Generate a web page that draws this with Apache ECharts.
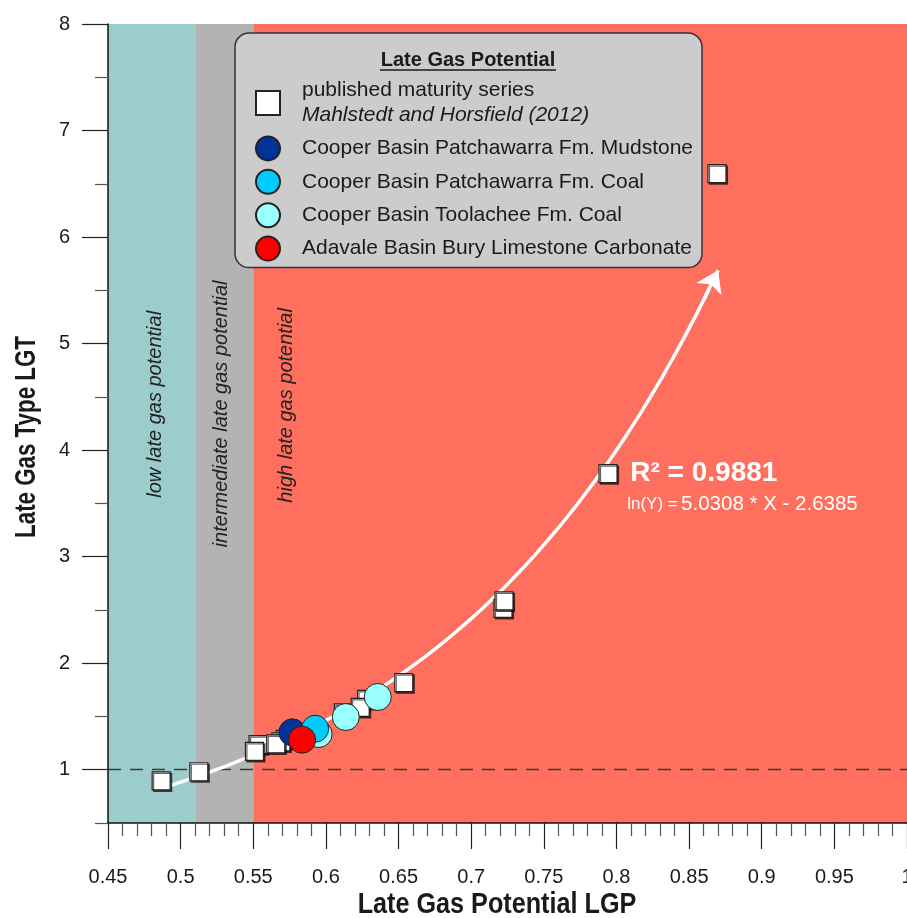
<!DOCTYPE html>
<html>
<head>
<meta charset="utf-8">
<script src="https://cdn.jsdelivr.net/npm/echarts@6/dist/echarts.min.js"></script>
<style>
  html, body { margin: 0; padding: 0; background: #fff; }
  #chart { width: 907px; height: 918px; }
</style>
</head>
<body>
<div id="chart"></div>
<script>
// ---- data ----
const SERIES_PUBLISHED = 'published maturity series';
const PUBLISHED_REF = 'Mahlstedt and Horsfield (2012)';
const SERIES_MUDSTONE = 'Cooper Basin Patchawarra Fm. Mudstone';
const SERIES_PATCH_COAL = 'Cooper Basin Patchawarra Fm. Coal';
const SERIES_TOOLACHEE = 'Cooper Basin Toolachee Fm. Coal';
const SERIES_ADAVALE = 'Adavale Basin Bury Limestone Carbonate';
const LEGEND_TITLE = 'Late Gas Potential';
const X_NAME = 'Late Gas Potential LGP';
const Y_NAME = 'Late Gas Type LGT';

// published maturity series (LGP, LGT), listed back-to-front
const maturityLGP = [0.4866, 0.5125, 0.5533, 0.5508, 0.5720, 0.5690, 0.5655, 0.6120, 0.6280, 0.6236, 0.6536, 0.7219, 0.7226, 0.7942, 0.8692];
const maturityLGT = [0.895, 0.981, 1.235, 1.172, 1.285, 1.262, 1.243, 1.533, 1.660, 1.585, 1.817, 2.515, 2.585, 3.780, 6.595];

const mudstoneLGP = [0.5769];
const mudstoneLGT = [1.351];
const patchCoalLGP = [0.5926];
const patchCoalLGT = [1.385];
const toolacheeLGP = [0.5950, 0.6137, 0.6357];
const toolacheeLGT = [1.335, 1.495, 1.683];
const adavaleLGP = [0.5836];
const adavaleLGT = [1.282];

// exponential fit ln(Y) = a * X + b
const FIT_SLOPE = 5.0308;
const FIT_INTERCEPT = -2.6385;
const FIT_R2 = 0.9881;
const FIT_X_START = 0.49;
const FIT_X_END = 0.87;
const FIT_STEPS = 80;

// classification bands on LGP
const bandEdges = [0.45, 0.51, 0.55, 1.0];
const bandNames = ['low late gas potential', 'intermediate late gas potential', 'high late gas potential'];
const bandColors = ['#9ccccc', '#b3b3b3', '#fe6f5e'];
const bandLabelAt = [[0.4824, 4.43], [0.5283, 4.34], [0.5731, 4.42]];

const yTickValues = [1, 2, 3, 4, 5, 6, 7, 8];
const yMinorTickValues = [0.5, 1.5, 2.5, 3.5, 4.5, 5.5, 6.5, 7.5];
const referenceLGT = 1;

// ---- styling ----
const FONT = '"Liberation Sans", Arial, sans-serif';
const INK = '#1a1a1a';

const zip = (xs, ys) => xs.map((x, i) => [x, ys[i]]);
const fitY = x => Math.exp(FIT_SLOPE * x + FIT_INTERCEPT);
const fitCurve = [];
for (let i = 0; i <= FIT_STEPS; i++) {
  const x = FIT_X_START + (FIT_X_END - 0.006 - FIT_X_START) * i / FIT_STEPS;
  fitCurve.push([x, fitY(x)]);
}
const arrowFrom = FIT_X_END - 0.01;

const squareStyle = {
  color: '#ffffff', borderColor: '#222', borderWidth: 1.2, opacity: 1,
  shadowColor: 'rgba(0,0,0,0.6)', shadowOffsetX: 1.5, shadowOffsetY: 1.5, shadowBlur: 0
};
const circleStyle = c => ({ color: c, borderColor: '#222', borderWidth: 1, opacity: 1 });

const chart = echarts.init(document.getElementById('chart'), null, { renderer: 'canvas' });

const option = {
  animation: false,
  backgroundColor: '#ffffff',
  grid: { left: 108, top: 24, right: 0, bottom: 95, containLabel: false, outerBoundsMode: 'none' },
  xAxis: {
    type: 'value', min: 0.45, max: 1.0, interval: 0.05, z: 10,
    axisLine: { show: true, onZero: false, lineStyle: { color: '#111', width: 1.5 } },
    axisTick: { show: true, inside: false, length: 26, lineStyle: { color: '#222', width: 1.2 } },
    minorTick: { show: true, splitNumber: 5, length: 13, lineStyle: { color: '#555', width: 1.2 } },
    axisLabel: { fontFamily: FONT, fontSize: 20, color: INK, margin: 44, hideOverlap: false },
    splitLine: { show: false }, minorSplitLine: { show: false }
  },
  yAxis: [{
    type: 'value', min: 0.5, max: 8, interval: 0.5, z: 10,
    axisLine: { show: true, onZero: false, lineStyle: { color: '#111', width: 1.5 } },
    axisTick: { show: true, inside: false, length: 26, customValues: yTickValues, lineStyle: { color: '#222', width: 1.2 } },
    axisLabel: { fontFamily: FONT, fontSize: 20, color: INK, margin: 38, customValues: yTickValues },
    splitLine: { show: false }
  }, {
    type: 'value', min: 0.5, max: 8, interval: 0.5, position: 'left', offset: 0, z: 10,
    axisLine: { show: false },
    axisTick: { show: true, inside: false, length: 13, customValues: yMinorTickValues, lineStyle: { color: '#555', width: 1.2 } },
    axisLabel: { show: false },
    splitLine: { show: false }
  }],
  legend: {
    orient: 'vertical', left: 235, top: 33,
    padding: [45, 9, 6, 20],
    itemWidth: 24, itemHeight: 24, itemGap: 7.4,
    backgroundColor: '#cccccc', borderColor: '#333', borderWidth: 1.5, borderRadius: 14,
    data: [SERIES_PUBLISHED, SERIES_MUDSTONE, SERIES_PATCH_COAL, SERIES_TOOLACHEE, SERIES_ADAVALE],
    selectedMode: false,
    textStyle: {
      fontFamily: FONT, fontSize: 21, color: INK, lineHeight: 24, padding: [0, 0, 0, 17],
      rich: {
        a: { fontFamily: FONT, fontSize: 21, color: INK, lineHeight: 25 },
        b: { fontFamily: FONT, fontSize: 21, color: INK, fontStyle: 'italic', lineHeight: 25 }
      }
    },
    formatter: name => name === SERIES_PUBLISHED ? '{a|' + name + '}\n{b|' + PUBLISHED_REF + '}' : name
  },
  series: [
    {
      // classification bands and the LGT = 1 reference line
      type: 'scatter', data: [], silent: true, z: 1,
      markArea: {
        silent: true, z: 1,
        label: { show: false },
        data: bandNames.map((n, i) => [
          { name: n, xAxis: bandEdges[i], itemStyle: { color: bandColors[i], opacity: 1, borderWidth: 0 } },
          { xAxis: bandEdges[i + 1] }
        ])
      },
      markLine: {
        silent: true, symbol: 'none', z: 5,
        label: { show: false },
        lineStyle: { type: [13, 9], color: '#3a3a3a', width: 1.3 },
        data: [{ yAxis: referenceLGT }]
      }
    },
    {
      name: 'fit', type: 'line', data: fitCurve, showSymbol: false, silent: true, z: 6,
      lineStyle: { color: '#ffffff', width: 3.5 }, smooth: false
    },
    {
      name: 'fit-arrow', type: 'lines', coordinateSystem: 'cartesian2d', silent: true, z: 6,
      symbol: ['none', 'arrow'], symbolSize: 21,
      lineStyle: { color: '#ffffff', width: 3.5, opacity: 1, curveness: 0 },
      data: [{ coords: [[arrowFrom, fitY(arrowFrom)], [FIT_X_END, fitY(FIT_X_END)]] }]
    },
    {
      name: SERIES_PUBLISHED, type: 'scatter', symbol: 'rect', symbolSize: 18, z: 10,
      itemStyle: squareStyle, data: zip(maturityLGP, maturityLGT)
    },
    {
      name: SERIES_TOOLACHEE, type: 'scatter', symbol: 'circle', symbolSize: 27, z: 10,
      itemStyle: circleStyle('#99ffff'), data: zip(toolacheeLGP, toolacheeLGT)
    },
    {
      name: SERIES_MUDSTONE, type: 'scatter', symbol: 'circle', symbolSize: 27, z: 10,
      itemStyle: circleStyle('#003399'), data: zip(mudstoneLGP, mudstoneLGT)
    },
    {
      name: SERIES_PATCH_COAL, type: 'scatter', symbol: 'circle', symbolSize: 27, z: 10,
      itemStyle: circleStyle('#00ccff'), data: zip(patchCoalLGP, patchCoalLGT)
    },
    {
      name: SERIES_ADAVALE, type: 'scatter', symbol: 'circle', symbolSize: 27, z: 10,
      itemStyle: circleStyle('#ff0000'), data: zip(adavaleLGP, adavaleLGT)
    }
  ]
};

chart.setOption(option);

// annotations placed from data coordinates
const toPx = p => chart.convertToPixel({ xAxisIndex: 0, yAxisIndex: 0 }, p);
const graphics = [];

// axis titles in a condensed bold face
const xBase = toPx([0.45, 0.5]);
graphics.push({
  type: 'text', x: 497, y: xBase[1] + 82, scaleX: 0.84, z: 20, silent: true,
  style: { text: X_NAME, font: 'bold 30px ' + FONT, fill: INK, align: 'center', verticalAlign: 'middle' }
});
graphics.push({
  type: 'text', x: 27, y: 437, rotation: Math.PI / 2, scaleX: 0.77, z: 20, silent: true,
  style: { text: Y_NAME, font: 'bold 29px ' + FONT, fill: INK, align: 'center', verticalAlign: 'middle' }
});

bandNames.forEach((n, i) => {
  const p = toPx(bandLabelAt[i]);
  graphics.push({
    type: 'text', x: p[0], y: p[1], rotation: Math.PI / 2, z: 20, silent: true,
    style: { text: n, font: 'italic 20px ' + FONT, fill: '#222', align: 'center', verticalAlign: 'middle' }
  });
});

const r2At = toPx([0.8095, 3.786]);
graphics.push({
  type: 'text', x: r2At[0], y: r2At[1], z: 20, silent: true,
  style: { text: 'R² = ' + FIT_R2.toFixed(4), font: 'bold 28px ' + FONT, fill: '#ffffff', align: 'left', verticalAlign: 'middle' }
});
const eqAt = toPx([0.8074, 3.495]);
graphics.push({
  type: 'text', x: eqAt[0], y: eqAt[1], z: 20, silent: true,
  style: {
    text: '{s|ln(Y) =} {n|' + FIT_SLOPE.toFixed(4) + ' * X - ' + Math.abs(FIT_INTERCEPT).toFixed(4) + '}',
    align: 'left', verticalAlign: 'middle',
    rich: {
      s: { fontFamily: FONT, fontSize: 17, fill: '#ffffff' },
      n: { fontFamily: FONT, fontSize: 20.5, fill: '#ffffff' }
    }
  }
});

// legend heading with underline
graphics.push({
  type: 'text', x: 468, y: 60, z: 20, silent: true,
  style: { text: LEGEND_TITLE, font: 'bold 20px ' + FONT, fill: INK, align: 'center', verticalAlign: 'middle' }
});
graphics.push({
  type: 'line', z: 20, silent: true,
  shape: { x1: 468 - 88, y1: 70, x2: 468 + 88, y2: 70 },
  style: { stroke: INK, lineWidth: 1.5 }
});

chart.setOption({ graphic: graphics });
</script>
</body>
</html>
